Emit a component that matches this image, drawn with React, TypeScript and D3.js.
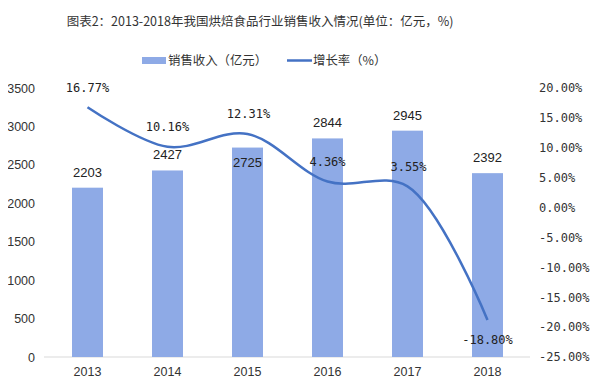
import React, { useEffect, useRef } from 'react';
import * as d3 from 'd3';

const years = ['2013', '2014', '2015', '2016', '2017', '2018'];
const revenue = [2203, 2427, 2725, 2844, 2945, 2392];
const growth = [16.77, 10.16, 12.31, 4.36, 3.55, -18.8];
const leftTicks = [0, 500, 1000, 1500, 2000, 2500, 3000, 3500];
const rightTicks = [20, 15, 10, 5, 0, -5, -10, -15, -20, -25];

const W = 600;
const H = 391;
const CJK = '"Noto Sans CJK SC", "Noto Sans", sans-serif';
const NUM = '"Liberation Sans", Arial, sans-serif';
const MONO = '"DejaVu Sans Mono", monospace';

export default function App() {
  const ref = useRef<SVGSVGElement>(null);

  useEffect(() => {
    const svg = d3.select(ref.current);
    svg.selectAll('*').remove();

    const x = d3.scaleBand().domain(years).range([47.5, 527.5]).paddingInner(0.6125).paddingOuter(0.30625);
    const yL = d3.scaleLinear().domain([0, 3500]).range([357, 88]);
    const yR = d3.scaleLinear().domain([-25, 20]).range([357, 88]);
    const cx = (i: number) => x(years[i])! + x.bandwidth() / 2;

    svg.append('text')
      .attr('x', 260).attr('y', 26)
      .attr('text-anchor', 'middle')
      .attr('font-size', 12.5).attr('fill', '#333').attr('font-family', CJK)
      .text('图表2：2013-2018年我国烘焙食品行业销售收入情况(单位：亿元，%)');

    // legend
    const lg = svg.append('g').attr('font-size', 12.4).attr('fill', '#333').attr('font-family', CJK);
    lg.append('rect').attr('x', 142).attr('y', 57).attr('width', 24).attr('height', 7).attr('fill', '#8eaae6');
    lg.append('text').attr('x', 168).attr('y', 65).text('销售收入（亿元）');
    lg.append('line').attr('x1', 287).attr('x2', 312).attr('y1', 60.5).attr('y2', 60.5)
      .attr('stroke', '#4472c4').attr('stroke-width', 2.5);
    lg.append('text').attr('x', 313).attr('y', 65).text('增长率（%）');

    // baseline
    svg.append('line').attr('x1', 44).attr('x2', 530).attr('y1', 357).attr('y2', 357)
      .attr('stroke', '#d9d9d9').attr('stroke-width', 1);

    // left axis
    const axL = svg.append('g').attr('transform', 'translate(35,0)')
      .call(d3.axisLeft(yL).tickValues(leftTicks).tickSize(0).tickPadding(0).tickFormat(d3.format('d')));
    axL.select('.domain').remove();
    axL.selectAll('text').attr('font-size', 12.5).attr('fill', '#333').attr('font-family', NUM);

    // right axis
    const axR = svg.append('g').attr('transform', 'translate(539,0)')
      .call(d3.axisRight(yR).tickValues(rightTicks).tickSize(0).tickPadding(0)
        .tickFormat(d => (+d).toFixed(2) + '%'));
    axR.select('.domain').remove();
    axR.selectAll('text').attr('font-size', 12).attr('fill', '#333').attr('font-family', MONO);

    // x axis
    const axX = svg.append('g').attr('transform', 'translate(0,357)')
      .call(d3.axisBottom(x).tickSize(0).tickPadding(10));
    axX.select('.domain').remove();
    axX.selectAll('text').attr('font-size', 12.5).attr('fill', '#333').attr('font-family', NUM);

    // bars
    svg.append('g').selectAll('rect').data(revenue).enter().append('rect')
      .attr('x', (d, i) => x(years[i])!)
      .attr('width', x.bandwidth())
      .attr('y', d => yL(d))
      .attr('height', d => yL(0) - yL(d))
      .attr('fill', '#8eaae6');

    const barOff = [-11, -11, 19, -11, -11, -11];
    svg.append('g').selectAll('text').data(revenue).enter().append('text')
      .attr('x', (d, i) => cx(i))
      .attr('y', (d, i) => yL(d) + barOff[i])
      .attr('text-anchor', 'middle')
      .attr('font-size', 13).attr('fill', '#222').attr('font-family', NUM)
      .text(d => d);

    // growth line
    const line = d3.line<number>()
      .x((d, i) => cx(i))
      .y(d => yR(d))
      .curve(d3.curveCatmullRom.alpha(0.5));
    svg.append('path').datum(growth)
      .attr('d', line)
      .attr('fill', 'none')
      .attr('stroke', '#4472c4')
      .attr('stroke-width', 2.5);

    const offs = [[0, -15], [0, -16], [1, -16], [0, -15], [1, -15], [0, 24]];
    svg.append('g').selectAll('text').data(growth).enter().append('text')
      .attr('x', (d, i) => cx(i) + offs[i][0])
      .attr('y', (d, i) => yR(d) + offs[i][1])
      .attr('text-anchor', 'middle')
      .attr('font-size', 12).attr('fill', '#222').attr('font-family', MONO)
      .text(d => d.toFixed(2) + '%');
  }, []);

  return (
    <svg ref={ref} width={W} height={H} style={{ display: 'block', margin: -8, background: '#fff' }} />
  );
}
